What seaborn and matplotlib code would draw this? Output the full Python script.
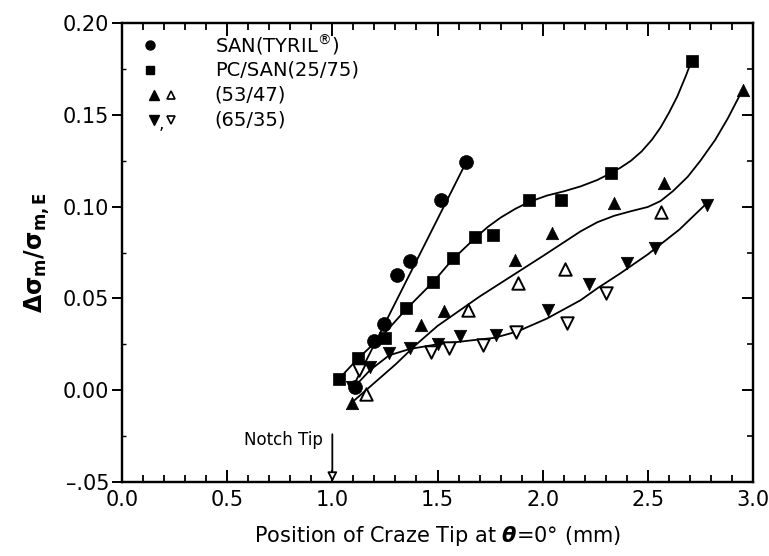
import numpy as np
import pandas as pd
import matplotlib
matplotlib.use("Agg")
import matplotlib.pyplot as plt
import seaborn as sns
from matplotlib.ticker import MultipleLocator, FuncFormatter, NullFormatter

# ---------------- data ----------------
san_x = [1.11, 1.197, 1.245, 1.308, 1.371, 1.518, 1.637]
san_y = [0.002, 0.027, 0.036, 0.063, 0.0705, 0.1036, 0.1245]

pc25_x = [1.03, 1.12, 1.25, 1.35, 1.48, 1.573, 1.678, 1.765, 1.935, 2.086, 2.324, 2.708]
pc25_y = [0.0062, 0.0174, 0.0286, 0.0449, 0.0591, 0.0718, 0.0836, 0.0845, 0.1036, 0.1036, 0.1181, 0.1795]

pc53_fill_x = [1.094, 1.42, 1.53, 1.868, 2.046, 2.34, 2.578, 2.951]
pc53_fill_y = [-0.0072, 0.0355, 0.0432, 0.0709, 0.0855, 0.1018, 0.1127, 0.1635]
pc53_open_x = [1.16, 1.645, 1.883, 2.106, 2.562]
pc53_open_y = [-0.002, 0.0437, 0.0586, 0.0659, 0.0972]

pc65_fill_x = [1.094, 1.18, 1.27, 1.37, 1.50, 1.605, 1.776, 2.027, 2.222, 2.403, 2.533, 2.781]
pc65_fill_y = [0.002, 0.0128, 0.020, 0.0228, 0.0252, 0.0295, 0.030, 0.0437, 0.0578, 0.0694, 0.0773, 0.1009]
pc65_open_x = [1.125, 1.467, 1.554, 1.715, 1.875, 2.117, 2.300]
pc65_open_y = [0.011, 0.021, 0.023, 0.0245, 0.0315, 0.0364, 0.0531]

# fitted curves as drawn in the reference
san_fit_x = [1.09, 1.64]
san_fit_y = [0.000, 0.125]
pc25_fit_x = [1.03, 1.12, 1.24, 1.35, 1.48, 1.57, 1.68, 1.74, 1.80, 1.87, 1.935, 2.02, 2.10, 2.18, 2.26, 2.32,
              2.37, 2.42, 2.47, 2.52, 2.56, 2.60, 2.64, 2.68, 2.71]
pc25_fit_y = [0.006, 0.017, 0.030, 0.044, 0.059, 0.071, 0.083, 0.089, 0.094, 0.0988, 0.1025, 0.1060, 0.1083, 0.1110, 0.1145, 0.118,
              0.1212, 0.1250, 0.1300, 0.1365, 0.1430, 0.1510, 0.1600, 0.1710, 0.180]
pc53_fit_x = [1.09, 1.2, 1.3, 1.4, 1.5, 1.6, 1.7, 1.85, 2.0, 2.10, 2.18, 2.26, 2.34, 2.42, 2.50, 2.56,
              2.62, 2.69, 2.75, 2.82, 2.88, 2.95]
pc53_fit_y = [-0.007, 0.004, 0.014, 0.025, 0.035, 0.043, 0.051, 0.062, 0.073, 0.0805, 0.0865, 0.0915, 0.0950, 0.0975, 0.0998, 0.1030,
              0.1085, 0.1163, 0.1250, 0.1363, 0.1480, 0.1635]
pc65_fit_x = [1.09, 1.18, 1.27, 1.37, 1.50, 1.65, 1.77, 1.88, 2.02, 2.18, 2.26, 2.37, 2.50, 2.65, 2.78]
pc65_fit_y = [0.000, 0.011, 0.019, 0.0225, 0.025, 0.027, 0.0285, 0.032, 0.039, 0.049, 0.0555, 0.0637, 0.074, 0.0875, 0.1018]

legend_labels = [r"SAN(TYRIL$^{\circledR}$)", "PC/SAN(25/75)", "(53/47)", "(65/35)"]
x_ticks = [0.0, 0.5, 1.0, 1.5, 2.0, 2.5, 3.0]
y_ticks = [-0.05, 0.00, 0.05, 0.10, 0.15, 0.20]

# ---------------- style ----------------
sns.set_theme(style="ticks")
plt.rcParams['font.family'] = ['DejaVu Sans']
plt.rcParams['mathtext.fontset'] = 'dejavusans'
plt.rcParams['text.color'] = 'black'
plt.rcParams['axes.labelcolor'] = 'black'
plt.rcParams['xtick.color'] = 'black'
plt.rcParams['ytick.color'] = 'black'

fig = plt.figure(figsize=(7.69, 5.56), dpi=100)
ax = fig.add_axes([122 / 769, 1 - 482 / 556, 631 / 769, 459 / 556])

lw = 1.3
for fx, fy in [(san_fit_x, san_fit_y), (pc25_fit_x, pc25_fit_y),
               (pc53_fit_x, pc53_fit_y), (pc65_fit_x, pc65_fit_y)]:
    sns.lineplot(x=fx, y=fy, sort=False, estimator=None, color='black', lw=lw, ax=ax)

ms = 80
sns.scatterplot(x=san_x, y=san_y, marker='o', s=ms + 20, color='black', edgecolor='black', linewidth=0.5, ax=ax, zorder=3)
sns.scatterplot(x=pc25_x, y=pc25_y, marker='s', s=ms, color='black', edgecolor='black', linewidth=0.5, ax=ax, zorder=3)
sns.scatterplot(x=pc53_fill_x, y=pc53_fill_y, marker='^', s=ms, color='black', edgecolor='black', linewidth=0.5, ax=ax, zorder=3)
sns.scatterplot(x=pc53_open_x, y=pc53_open_y, marker='^', s=ms, facecolor='white', edgecolor='black', linewidth=1.4, ax=ax, zorder=3)
sns.scatterplot(x=pc65_fill_x, y=pc65_fill_y, marker='v', s=ms, color='black', edgecolor='black', linewidth=0.5, ax=ax, zorder=3)
sns.scatterplot(x=pc65_open_x, y=pc65_open_y, marker='v', s=ms, facecolor='white', edgecolor='black', linewidth=1.4, ax=ax, zorder=3)

ax.set_xlim(0.0, 3.0)
ax.set_ylim(-0.05, 0.20)
ax.set_xticks(x_ticks)
ax.set_yticks(y_ticks)
ax.xaxis.set_minor_locator(MultipleLocator(0.1))
ax.yaxis.set_minor_locator(MultipleLocator(0.025))
ax.xaxis.set_major_formatter(FuncFormatter(lambda v, p: f"{v:.1f}"))
ax.yaxis.set_major_formatter(FuncFormatter(lambda v, p: ("\u2013" + f"{abs(v):.2f}"[1:]) if v < -1e-9 else f"{abs(v):.2f}"))

for s in ax.spines.values():
    s.set_linewidth(1.6)
    s.set_color('black')
    s.set_visible(True)

ax.tick_params(axis='x', which='major', direction='in', length=9, width=1.4, top=True, bottom=True,
               labelsize=15, pad=6, colors='black')
ax.tick_params(axis='x', which='minor', direction='in', length=5, width=1.3, top=True, bottom=True, colors='black')
ax.tick_params(axis='y', which='major', direction='out', length=7, width=1.4, left=True, right=False,
               labelsize=15, pad=2, colors='black')
ax.tick_params(axis='y', which='minor', direction='in', length=3, width=1.0, left=True, right=False, colors='black')

# right-hand axis with inward ticks (no labels)
ax_r = ax.twinx()
ax_r.set_ylim(-0.05, 0.20)
ax_r.set_yticks(y_ticks)
ax_r.yaxis.set_minor_locator(MultipleLocator(0.025))
ax_r.yaxis.set_major_formatter(NullFormatter())
ax_r.tick_params(axis='y', which='major', direction='in', length=8, width=1.4, right=True, left=False, colors='black')
ax_r.tick_params(axis='y', which='minor', direction='in', length=4, width=1.2, right=True, left=False, colors='black')
for s in ax_r.spines.values():
    s.set_linewidth(1.6)
    s.set_color('black')

ax.set_xlabel(r"Position of Craze Tip at $\mathbfit{\theta}$=0° (mm)", fontsize=15, labelpad=10, color='black')
ax.set_ylabel(r"$\mathbf{\Delta\sigma_m/\sigma_{m,E}}$", fontsize=17, labelpad=8, color='black')

# Notch tip arrow
ax.annotate("", xy=(1.0, -0.05), xytext=(1.0, -0.024),
            arrowprops=dict(arrowstyle='-|>', lw=1.3, fc='white', ec='black', mutation_scale=14, shrinkA=0, shrinkB=0))
ax.text(0.955, -0.027, "Notch Tip", ha='right', va='center', fontsize=12, color='black')

# legend drawn manually in axes coordinates
rows_y = [0.952, 0.898, 0.843, 0.789]
tx = 0.147
ax.plot([0.044], [rows_y[0]], 'o', color='black', ms=6.5, transform=ax.transAxes, clip_on=False)
ax.plot([0.044], [rows_y[1]], 's', color='black', ms=6, transform=ax.transAxes, clip_on=False)
ax.plot([0.050], [rows_y[2]], '^', color='black', ms=7, transform=ax.transAxes, clip_on=False)
ax.plot([0.077], [rows_y[2]], '^', mfc='white', mec='black', mew=1.2, ms=6, transform=ax.transAxes, clip_on=False)
ax.plot([0.050], [rows_y[3]], 'v', color='black', ms=7, transform=ax.transAxes, clip_on=False)
ax.text(0.062, rows_y[3] - 0.008, ",", fontsize=12, transform=ax.transAxes, ha='center', va='center', color='black')
ax.plot([0.077], [rows_y[3]], 'v', mfc='white', mec='black', mew=1.2, ms=6, transform=ax.transAxes, clip_on=False)
for yy, lab in zip(rows_y, legend_labels):
    ax.text(tx, yy, lab, fontsize=14, transform=ax.transAxes, ha='left', va='center', color='black')

fig.savefig("out.png", dpi=100)
